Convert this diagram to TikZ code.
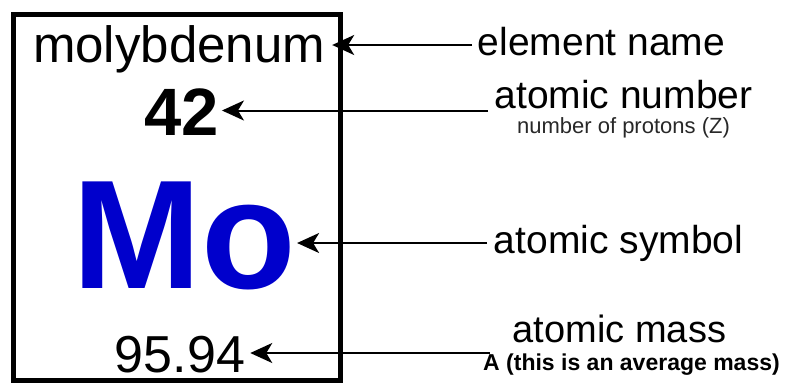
\documentclass[tikz,border=0pt]{standalone}
\usepackage{fontspec}
\setmainfont{Liberation Sans}
\usetikzlibrary{arrows.meta}
\definecolor{moblue}{RGB}{0,0,204}
\definecolor{subgray}{RGB}{40,40,40}
\begin{document}
\begin{tikzpicture}[x=1pt,y=-1pt,
  txt/.style={inner ysep=0pt, inner xsep=0pt, anchor=base, text=black},
  arr/.style={line width=2pt, -{Stealth[length=22pt,width=20pt,inset=6pt]}},
  frame/.style={draw=black, line width=5pt, inner sep=0pt}]
\useasboundingbox (0,0) rectangle (785,384);
% element card
\node[frame, minimum width=326.5pt, minimum height=366.5pt] (card) at (176.75,197.25) {};
% values in the card
\node[txt, inner xsep=7pt, font=\fontsize{51}{51}\selectfont] (name) at (179,62) {molybdenum};
\node[txt, inner xsep=3pt, font=\fontsize{67}{67}\selectfont\bfseries] (num) at (181.5,135) {42};
\node[txt, inner xsep=1pt, text=moblue, font=\fontsize{155}{155}\selectfont\bfseries] (sym) at (184,288) {Mo};
\node[txt, inner xsep=5pt, font=\fontsize{52}{52}\selectfont] (mass) at (180,372) {95.94};
% labels
\node[txt, font=\fontsize{39}{39}\selectfont] (lname) at (601.5,55) {element name};
\node[txt, font=\fontsize{39}{39}\selectfont] (lnum) at (623.5,108) {atomic number};
\node[txt, text=subgray, font=\fontsize{22}{22}\selectfont] (lnumsub) at (623.5,133) {number of protons (Z)};
\node[txt, font=\fontsize{39}{39}\selectfont] (lsym) at (618.5,253) {atomic symbol};
\node[txt, font=\fontsize{38}{38}\selectfont] (lmass) at (619.5,342) {atomic mass};
\node[txt, font=\fontsize{23}{23}\selectfont\bfseries] (lmasssub) at (631.5,370) {A (this is an average mass)};
% connector starts
\coordinate (sname) at (472,45);
\coordinate (snum) at (488,110.5);
\coordinate (ssym) at (487,243);
\coordinate (smass) at (490,353);
% connectors
\draw[arr] (sname) -- (sname -| name.east);
\draw[arr] (snum) -- (snum -| num.east);
\draw[arr] (ssym) -- (ssym -| sym.east);
\draw[arr] (smass) -- (smass -| mass.east);
\end{tikzpicture}
\end{document}
